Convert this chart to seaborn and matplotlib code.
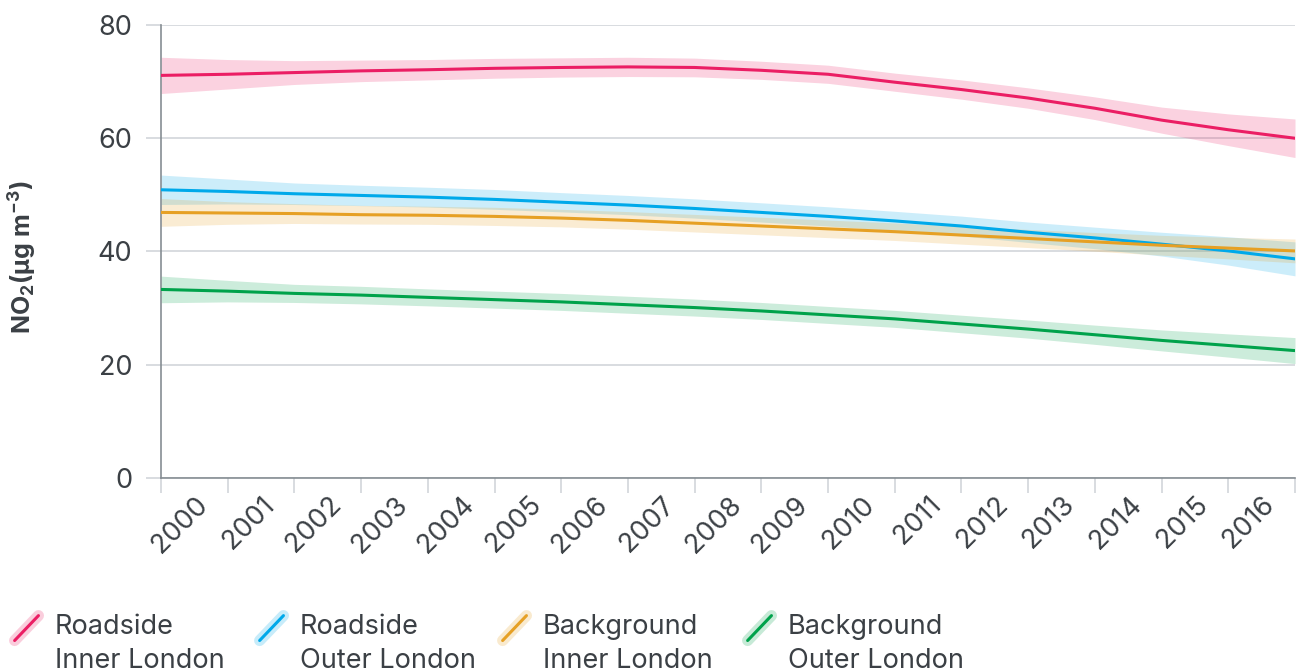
import numpy as np
import pandas as pd
import seaborn as sns
import matplotlib.pyplot as plt
from matplotlib.legend_handler import HandlerBase
from matplotlib.lines import Line2D

# ---- data -----------------------------------------------------------------
# smoothed annual-mean NO2 trend, sampled at the start of each year
time_points = list(range(2000, 2018))
year_labels = [str(y) for y in range(2000, 2017)]

series_names = [
    "Roadside\nInner London",
    "Roadside\nOuter London",
    "Background\nInner London",
    "Background\nOuter London",
]
series_colors = ["#EB1E64", "#00A9EA", "#E6A024", "#00A24B"]

roadside_inner = [71.1, 71.3, 71.6, 71.9, 72.1, 72.35, 72.5, 72.6, 72.5,
                  72.0, 71.3, 69.9, 68.6, 67.1, 65.3, 63.2, 61.5, 60.0]
roadside_inner_ci = [3.2, 2.6, 2.1, 1.9, 1.8, 1.75, 1.7, 1.7, 1.65,
                     1.6, 1.6, 1.6, 1.7, 1.8, 2.0, 2.3, 2.8, 3.4]

roadside_outer = [50.9, 50.6, 50.2, 49.9, 49.6, 49.2, 48.7, 48.2, 47.6,
                  46.9, 46.2, 45.4, 44.5, 43.4, 42.4, 41.3, 40.1, 38.7]
roadside_outer_ci = [2.6, 2.2, 1.9, 1.8, 1.75, 1.75, 1.7, 1.7, 1.7,
                     1.7, 1.7, 1.7, 1.75, 1.8, 1.9, 2.1, 2.5, 3.0]

background_inner = [46.9, 46.8, 46.7, 46.5, 46.4, 46.2, 45.9, 45.5, 45.0,
                    44.5, 44.0, 43.5, 42.9, 42.3, 41.7, 41.1, 40.6, 40.1]
background_inner_ci = [2.45, 2.0, 1.75, 1.65, 1.6, 1.6, 1.55, 1.55, 1.55,
                       1.55, 1.55, 1.55, 1.6, 1.6, 1.65, 1.75, 1.9, 2.1]

background_outer = [33.3, 33.0, 32.6, 32.3, 31.9, 31.5, 31.1, 30.6, 30.1,
                    29.5, 28.8, 28.1, 27.2, 26.3, 25.3, 24.3, 23.4, 22.5]
background_outer_ci = [2.35, 1.9, 1.6, 1.55, 1.5, 1.5, 1.5, 1.5, 1.5,
                       1.5, 1.5, 1.5, 1.55, 1.6, 1.7, 1.85, 2.05, 2.3]

series_values = [roadside_inner, roadside_outer, background_inner, background_outer]
series_ci = [roadside_inner_ci, roadside_outer_ci, background_inner_ci, background_outer_ci]

frames = []
for name, vals, ci in zip(series_names, series_values, series_ci):
    frames.append(pd.DataFrame({"time": time_points, "no2": vals, "ci": ci, "site": name}))
df = pd.concat(frames, ignore_index=True)

# ---- style ----------------------------------------------------------------
sns.set_theme(style="white")
plt.rcParams["font.family"] = ["Inter", "DejaVu Sans"]
plt.rcParams["mathtext.fontset"] = "custom"
plt.rcParams["mathtext.rm"] = "Inter"
plt.rcParams["mathtext.bf"] = "Inter:bold"

text_color = "#3b4045"
grid_color = "#d6d9dd"
axis_color = "#868d93"
font_size = 19.5

fig = plt.figure(figsize=(12.99, 6.71), dpi=100)
ax = fig.add_axes([161 / 1299, 193 / 671, 1134 / 1299, 453 / 671])

palette = dict(zip(series_names, series_colors))

# confidence bands first, then trend lines on top
for name, color in palette.items():
    d = df[df["site"] == name]
    ax.fill_between(d["time"], d["no2"] - d["ci"], d["no2"] + d["ci"],
                    color=color, alpha=0.2, linewidth=0, zorder=1)

sns.lineplot(data=df, x="time", y="no2", hue="site", palette=palette,
             linewidth=2.2, ax=ax, legend=False, zorder=3, estimator=None)

# ---- axes -----------------------------------------------------------------
ax.set_xlim(time_points[0], time_points[-1])
ax.set_ylim(0, 80)
ax.set_xlabel("")
ax.set_ylabel(r"NO$_\mathbf{2}$(µg m$^\mathbf{-3}$)", fontsize=18,
              fontweight="bold", color=text_color)
ax.yaxis.set_label_coords(-0.108, 0.487)

for side in ("top", "right"):
    ax.spines[side].set_visible(False)
for side in ("left", "bottom"):
    ax.spines[side].set_color(axis_color)
    ax.spines[side].set_linewidth(1.2)

ax.set_yticks([0, 20, 40, 60, 80])
ax.yaxis.grid(True, color=grid_color, linewidth=1.3, zorder=0)
ax.set_axisbelow(True)
ax.tick_params(axis="y", length=10.8, width=1.3, color=grid_color,
               labelsize=font_size, labelcolor=text_color, pad=10, left=True)
ax.yaxis.get_major_ticks()[0].tick1line.set_color(axis_color)

# year labels sit in the middle of each year, ticks at year boundaries
ax.set_xticks([y + 0.5 for y in time_points[:-1]])
ax.set_xticklabels(year_labels)
ax.set_xticks(time_points, minor=True)
ax.tick_params(axis="x", which="major", length=0, labelsize=font_size,
               labelcolor=text_color, pad=10)
ax.tick_params(axis="x", which="minor", length=10.8, width=1.3,
               color=grid_color, bottom=True)
for lbl in ax.get_xticklabels():
    lbl.set_rotation(45)
    lbl.set_ha("right")
    lbl.set_va("top")
    lbl.set_rotation_mode("anchor")


# ---- legend ---------------------------------------------------------------
class SlashHandler(HandlerBase):
    def create_artists(self, legend, orig_handle, xdescent, ydescent,
                       width, height, fontsize, trans):
        color = orig_handle.get_color()
        cx = -xdescent + width / 2
        cy = -ydescent + height / 2 + 0.6 * fontsize
        dx, dy = 0.44 * fontsize, 0.46 * fontsize
        xs = [cx - dx, cx + dx]
        ys = [cy - dy, cy + dy]
        glow = Line2D(xs, ys, color=color, alpha=0.22, linewidth=8,
                      solid_capstyle="round", transform=trans)
        core = Line2D(xs, ys, color=color, linewidth=2.2,
                      solid_capstyle="round", transform=trans)
        return [glow, core]


# one legend block per series, laid out in evenly spaced columns
legend_left = [13, 258, 501, 746]
for name, color, x0 in zip(series_names, series_colors, legend_left):
    leg = fig.legend([Line2D([], [], color=color)], [name], loc="upper left",
                     bbox_to_anchor=(x0 / 1299, 1 - 614 / 671), frameon=False,
                     fontsize=font_size, labelcolor=text_color, handlelength=1.0,
                     handletextpad=0.55, borderpad=0, borderaxespad=0,
                     handler_map={Line2D: SlashHandler()})
    for t in leg.get_texts():
        t.set_linespacing(1.38)

fig.savefig("out.png", dpi=100)
